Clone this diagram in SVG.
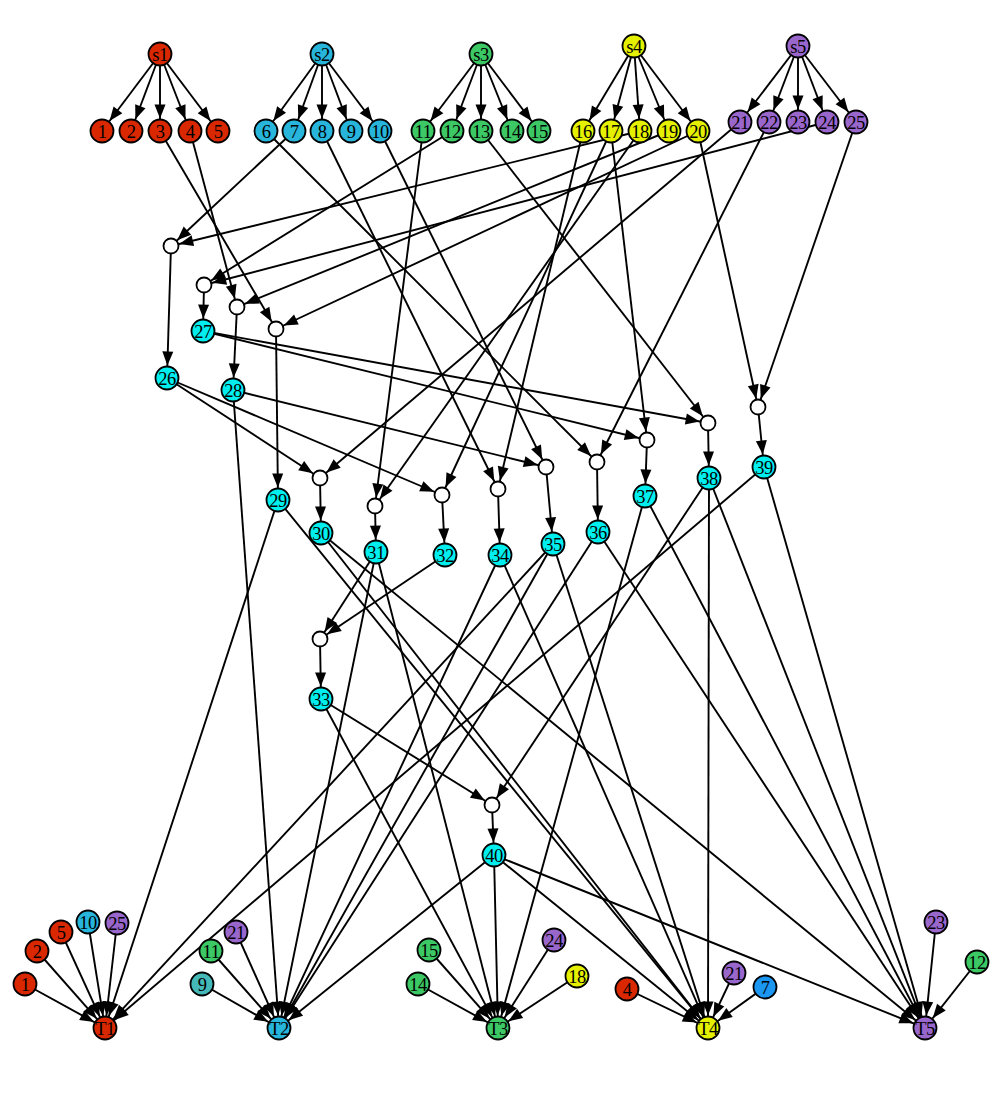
<svg xmlns="http://www.w3.org/2000/svg" width="997" height="1107" viewBox="0 0 997 1107">
<defs>
<marker id="mc" markerUnits="userSpaceOnUse" markerWidth="30" markerHeight="14" refX="26.5" refY="0" orient="auto" overflow="visible"><path d="M0,-5.5 L14,0 L0,5.5 z" fill="#000"/></marker>
<marker id="me" markerUnits="userSpaceOnUse" markerWidth="30" markerHeight="14" refX="22.5" refY="0" orient="auto" overflow="visible"><path d="M0,-5.5 L14,0 L0,5.5 z" fill="#000"/></marker>
</defs>
<style>
.n circle{stroke:#000;stroke-width:1.8}
.n text{font-family:"Liberation Serif",serif;font-size:18.5px;text-anchor:middle;fill:#000;letter-spacing:-0.5px}
.x circle{fill:#fff;stroke:#000;stroke-width:1.8}
#edges line{stroke:#000;stroke-width:1.9;fill:none}
#edges line.c{marker-end:url(#mc)}
#edges line.e{marker-end:url(#me)}
.R{fill:#d92800}.B{fill:#27b5dc}.G{fill:#3cc864}.Y{fill:#e4f000}.P{fill:#9966cc}.C{fill:#00eeee}.Tl{fill:#45b8b8}.Bl{fill:#1b97f2}
</style>
<rect width="997" height="1107" fill="#fff"/>
<g id="edges">
<line class="c" x1="160" y1="54" x2="102" y2="131"/>
<line class="c" x1="160" y1="54" x2="131" y2="131"/>
<line class="c" x1="160" y1="54" x2="160" y2="131"/>
<line class="c" x1="160" y1="54" x2="190" y2="131"/>
<line class="c" x1="160" y1="54" x2="218" y2="131"/>
<line class="c" x1="322" y1="54" x2="266" y2="131"/>
<line class="c" x1="322" y1="54" x2="294" y2="131"/>
<line class="c" x1="322" y1="54" x2="322" y2="131"/>
<line class="c" x1="322" y1="54" x2="351" y2="131"/>
<line class="c" x1="322" y1="54" x2="380" y2="131"/>
<line class="c" x1="481" y1="54" x2="423" y2="131"/>
<line class="c" x1="481" y1="54" x2="452" y2="131"/>
<line class="c" x1="481" y1="54" x2="481" y2="131"/>
<line class="c" x1="481" y1="54" x2="512" y2="131"/>
<line class="c" x1="481" y1="54" x2="539" y2="131"/>
<line class="c" x1="634" y1="46" x2="583" y2="131"/>
<line class="c" x1="634" y1="46" x2="611" y2="131"/>
<line class="c" x1="634" y1="46" x2="640" y2="131"/>
<line class="c" x1="634" y1="46" x2="669" y2="131"/>
<line class="c" x1="634" y1="46" x2="698" y2="131"/>
<line class="c" x1="798" y1="46" x2="740" y2="122"/>
<line class="c" x1="798" y1="46" x2="769" y2="122"/>
<line class="c" x1="798" y1="46" x2="798" y2="122"/>
<line class="c" x1="798" y1="46" x2="827" y2="122"/>
<line class="c" x1="798" y1="46" x2="856" y2="122"/>
<line class="e" x1="160" y1="131" x2="276" y2="329"/>
<line class="e" x1="190" y1="131" x2="237" y2="307"/>
<line class="e" x1="294" y1="131" x2="171" y2="246"/>
<line class="e" x1="266" y1="131" x2="597" y2="462"/>
<line class="e" x1="322" y1="131" x2="498" y2="489"/>
<line class="e" x1="380" y1="131" x2="546" y2="467"/>
<line class="e" x1="423" y1="131" x2="375" y2="506"/>
<line class="e" x1="452" y1="131" x2="204" y2="285"/>
<line class="e" x1="481" y1="131" x2="708" y2="423"/>
<line class="e" x1="583" y1="131" x2="498" y2="489"/>
<line class="e" x1="611" y1="131" x2="442" y2="495"/>
<line class="e" x1="611" y1="131" x2="647" y2="440"/>
<line class="e" x1="640" y1="131" x2="171" y2="246"/>
<line class="e" x1="640" y1="131" x2="375" y2="506"/>
<line class="e" x1="669" y1="131" x2="237" y2="307"/>
<line class="e" x1="698" y1="131" x2="276" y2="329"/>
<line class="e" x1="698" y1="131" x2="758" y2="407"/>
<line class="e" x1="740" y1="122" x2="320" y2="478"/>
<line class="e" x1="769" y1="122" x2="597" y2="462"/>
<line class="e" x1="827" y1="122" x2="204" y2="285"/>
<line class="e" x1="856" y1="122" x2="758" y2="407"/>
<line class="c" x1="171" y1="246" x2="167" y2="378"/>
<line class="c" x1="204" y1="285" x2="203" y2="331"/>
<line class="c" x1="237" y1="307" x2="233" y2="390"/>
<line class="c" x1="276" y1="329" x2="278" y2="500"/>
<line class="c" x1="320" y1="478" x2="321" y2="533"/>
<line class="c" x1="375" y1="506" x2="376" y2="552"/>
<line class="c" x1="442" y1="495" x2="445" y2="555"/>
<line class="c" x1="498" y1="489" x2="500" y2="555"/>
<line class="c" x1="546" y1="467" x2="553" y2="544"/>
<line class="c" x1="597" y1="462" x2="598" y2="532"/>
<line class="c" x1="647" y1="440" x2="645" y2="496"/>
<line class="c" x1="708" y1="423" x2="709" y2="478"/>
<line class="c" x1="758" y1="407" x2="764" y2="467"/>
<line class="c" x1="320" y1="639" x2="321" y2="699"/>
<line class="c" x1="492" y1="805" x2="494" y2="855"/>
<line class="e" x1="167" y1="378" x2="320" y2="478"/>
<line class="e" x1="167" y1="378" x2="442" y2="495"/>
<line class="e" x1="203" y1="331" x2="647" y2="440"/>
<line class="e" x1="203" y1="331" x2="708" y2="423"/>
<line class="e" x1="233" y1="390" x2="546" y2="467"/>
<line class="c" x1="233" y1="390" x2="279" y2="1028"/>
<line class="c" x1="278" y1="500" x2="105" y2="1028"/>
<line class="c" x1="278" y1="500" x2="708" y2="1028"/>
<line class="c" x1="321" y1="533" x2="708" y2="1028"/>
<line class="c" x1="321" y1="533" x2="925" y2="1028"/>
<line class="e" x1="376" y1="552" x2="320" y2="639"/>
<line class="c" x1="376" y1="552" x2="279" y2="1028"/>
<line class="c" x1="376" y1="552" x2="498" y2="1028"/>
<line class="e" x1="445" y1="555" x2="320" y2="639"/>
<line class="e" x1="321" y1="699" x2="492" y2="805"/>
<line class="c" x1="321" y1="699" x2="498" y2="1028"/>
<line class="c" x1="500" y1="555" x2="279" y2="1028"/>
<line class="c" x1="500" y1="555" x2="708" y2="1028"/>
<line class="c" x1="553" y1="544" x2="105" y2="1028"/>
<line class="c" x1="553" y1="544" x2="279" y2="1028"/>
<line class="c" x1="553" y1="544" x2="708" y2="1028"/>
<line class="c" x1="598" y1="532" x2="279" y2="1028"/>
<line class="c" x1="598" y1="532" x2="925" y2="1028"/>
<line class="c" x1="645" y1="496" x2="498" y2="1028"/>
<line class="c" x1="645" y1="496" x2="925" y2="1028"/>
<line class="e" x1="709" y1="478" x2="492" y2="805"/>
<line class="c" x1="709" y1="478" x2="708" y2="1028"/>
<line class="c" x1="709" y1="478" x2="925" y2="1028"/>
<line class="c" x1="764" y1="467" x2="105" y2="1028"/>
<line class="c" x1="764" y1="467" x2="925" y2="1028"/>
<line class="c" x1="494" y1="855" x2="279" y2="1028"/>
<line class="c" x1="494" y1="855" x2="498" y2="1028"/>
<line class="c" x1="494" y1="855" x2="708" y2="1028"/>
<line class="c" x1="494" y1="855" x2="925" y2="1028"/>
<line class="c" x1="25" y1="984" x2="105" y2="1028"/>
<line class="c" x1="37" y1="951" x2="105" y2="1028"/>
<line class="c" x1="61" y1="932" x2="105" y2="1028"/>
<line class="c" x1="88" y1="922" x2="105" y2="1028"/>
<line class="c" x1="117" y1="923" x2="105" y2="1028"/>
<line class="c" x1="202" y1="984" x2="279" y2="1028"/>
<line class="c" x1="211" y1="951" x2="279" y2="1028"/>
<line class="c" x1="236" y1="932" x2="279" y2="1028"/>
<line class="c" x1="418" y1="984" x2="498" y2="1028"/>
<line class="c" x1="429" y1="950" x2="498" y2="1028"/>
<line class="c" x1="554" y1="940" x2="498" y2="1028"/>
<line class="c" x1="577" y1="976" x2="498" y2="1028"/>
<line class="c" x1="627" y1="989" x2="708" y2="1028"/>
<line class="c" x1="734" y1="973" x2="708" y2="1028"/>
<line class="c" x1="765" y1="987" x2="708" y2="1028"/>
<line class="c" x1="936" y1="922" x2="925" y2="1028"/>
<line class="c" x1="977" y1="962" x2="925" y2="1028"/>
</g>
<g id="s1" class="n"><circle class="R" cx="160" cy="54" r="11.5"/><text x="160" y="60.5">s1</text></g>
<g id="s2" class="n"><circle class="B" cx="322" cy="54" r="11.5"/><text x="322" y="60.5">s2</text></g>
<g id="s3" class="n"><circle class="G" cx="481" cy="54" r="11.5"/><text x="481" y="60.5">s3</text></g>
<g id="s4" class="n"><circle class="Y" cx="634" cy="46" r="11.5"/><text x="634" y="52.5">s4</text></g>
<g id="s5" class="n"><circle class="P" cx="798" cy="46" r="11.5"/><text x="798" y="52.5">s5</text></g>
<g id="n1" class="n"><circle class="R" cx="102" cy="131" r="11.5"/><text x="102" y="137.5">1</text></g>
<g id="n2" class="n"><circle class="R" cx="131" cy="131" r="11.5"/><text x="131" y="137.5">2</text></g>
<g id="n3" class="n"><circle class="R" cx="160" cy="131" r="11.5"/><text x="160" y="137.5">3</text></g>
<g id="n4" class="n"><circle class="R" cx="190" cy="131" r="11.5"/><text x="190" y="137.5">4</text></g>
<g id="n5" class="n"><circle class="R" cx="218" cy="131" r="11.5"/><text x="218" y="137.5">5</text></g>
<g id="n6" class="n"><circle class="B" cx="266" cy="131" r="11.5"/><text x="266" y="137.5">6</text></g>
<g id="n7" class="n"><circle class="B" cx="294" cy="131" r="11.5"/><text x="294" y="137.5">7</text></g>
<g id="n8" class="n"><circle class="B" cx="322" cy="131" r="11.5"/><text x="322" y="137.5">8</text></g>
<g id="n9" class="n"><circle class="B" cx="351" cy="131" r="11.5"/><text x="351" y="137.5">9</text></g>
<g id="n10" class="n"><circle class="B" cx="380" cy="131" r="11.5"/><text x="380" y="137.5">10</text></g>
<g id="n11" class="n"><circle class="G" cx="423" cy="131" r="11.5"/><text x="423" y="137.5">11</text></g>
<g id="n12" class="n"><circle class="G" cx="452" cy="131" r="11.5"/><text x="452" y="137.5">12</text></g>
<g id="n13" class="n"><circle class="G" cx="481" cy="131" r="11.5"/><text x="481" y="137.5">13</text></g>
<g id="n14" class="n"><circle class="G" cx="512" cy="131" r="11.5"/><text x="512" y="137.5">14</text></g>
<g id="n15" class="n"><circle class="G" cx="539" cy="131" r="11.5"/><text x="539" y="137.5">15</text></g>
<g id="n16" class="n"><circle class="Y" cx="583" cy="131" r="11.5"/><text x="583" y="137.5">16</text></g>
<g id="n17" class="n"><circle class="Y" cx="611" cy="131" r="11.5"/><text x="611" y="137.5">17</text></g>
<g id="n18" class="n"><circle class="Y" cx="640" cy="131" r="11.5"/><text x="640" y="137.5">18</text></g>
<g id="n19" class="n"><circle class="Y" cx="669" cy="131" r="11.5"/><text x="669" y="137.5">19</text></g>
<g id="n20" class="n"><circle class="Y" cx="698" cy="131" r="11.5"/><text x="698" y="137.5">20</text></g>
<g id="n21" class="n"><circle class="P" cx="740" cy="122" r="11.5"/><text x="740" y="128.5">21</text></g>
<g id="n22" class="n"><circle class="P" cx="769" cy="122" r="11.5"/><text x="769" y="128.5">22</text></g>
<g id="n23" class="n"><circle class="P" cx="798" cy="122" r="11.5"/><text x="798" y="128.5">23</text></g>
<g id="n24" class="n"><circle class="P" cx="827" cy="122" r="11.5"/><text x="827" y="128.5">24</text></g>
<g id="n25" class="n"><circle class="P" cx="856" cy="122" r="11.5"/><text x="856" y="128.5">25</text></g>
<g id="j26" class="x"><circle cx="171" cy="246" r="7.5"/></g>
<g id="j27" class="x"><circle cx="204" cy="285" r="7.5"/></g>
<g id="j28" class="x"><circle cx="237" cy="307" r="7.5"/></g>
<g id="j29" class="x"><circle cx="276" cy="329" r="7.5"/></g>
<g id="j30" class="x"><circle cx="320" cy="478" r="7.5"/></g>
<g id="j31" class="x"><circle cx="375" cy="506" r="7.5"/></g>
<g id="j32" class="x"><circle cx="442" cy="495" r="7.5"/></g>
<g id="j33" class="x"><circle cx="320" cy="639" r="7.5"/></g>
<g id="j34" class="x"><circle cx="498" cy="489" r="7.5"/></g>
<g id="j35" class="x"><circle cx="546" cy="467" r="7.5"/></g>
<g id="j36" class="x"><circle cx="597" cy="462" r="7.5"/></g>
<g id="j37" class="x"><circle cx="647" cy="440" r="7.5"/></g>
<g id="j38" class="x"><circle cx="708" cy="423" r="7.5"/></g>
<g id="j39" class="x"><circle cx="758" cy="407" r="7.5"/></g>
<g id="j40" class="x"><circle cx="492" cy="805" r="7.5"/></g>
<g id="n26" class="n"><circle class="C" cx="167" cy="378" r="11.5"/><text x="167" y="384.5">26</text></g>
<g id="n27" class="n"><circle class="C" cx="203" cy="331" r="11.5"/><text x="203" y="337.5">27</text></g>
<g id="n28" class="n"><circle class="C" cx="233" cy="390" r="11.5"/><text x="233" y="396.5">28</text></g>
<g id="n29" class="n"><circle class="C" cx="278" cy="500" r="11.5"/><text x="278" y="506.5">29</text></g>
<g id="n30" class="n"><circle class="C" cx="321" cy="533" r="11.5"/><text x="321" y="539.5">30</text></g>
<g id="n31" class="n"><circle class="C" cx="376" cy="552" r="11.5"/><text x="376" y="558.5">31</text></g>
<g id="n32" class="n"><circle class="C" cx="445" cy="555" r="11.5"/><text x="445" y="561.5">32</text></g>
<g id="n33" class="n"><circle class="C" cx="321" cy="699" r="11.5"/><text x="321" y="705.5">33</text></g>
<g id="n34" class="n"><circle class="C" cx="500" cy="555" r="11.5"/><text x="500" y="561.5">34</text></g>
<g id="n35" class="n"><circle class="C" cx="553" cy="544" r="11.5"/><text x="553" y="550.5">35</text></g>
<g id="n36" class="n"><circle class="C" cx="598" cy="532" r="11.5"/><text x="598" y="538.5">36</text></g>
<g id="n37" class="n"><circle class="C" cx="645" cy="496" r="11.5"/><text x="645" y="502.5">37</text></g>
<g id="n38" class="n"><circle class="C" cx="709" cy="478" r="11.5"/><text x="709" y="484.5">38</text></g>
<g id="n39" class="n"><circle class="C" cx="764" cy="467" r="11.5"/><text x="764" y="473.5">39</text></g>
<g id="n40" class="n"><circle class="C" cx="494" cy="855" r="11.5"/><text x="494" y="861.5">40</text></g>
<g id="T1" class="n"><circle class="R" cx="105" cy="1028" r="11.5"/><text x="105" y="1034.5">T1</text></g>
<g id="T2" class="n"><circle class="B" cx="279" cy="1028" r="11.5"/><text x="279" y="1034.5">T2</text></g>
<g id="T3" class="n"><circle class="G" cx="498" cy="1028" r="11.5"/><text x="498" y="1034.5">T3</text></g>
<g id="T4" class="n"><circle class="Y" cx="708" cy="1028" r="11.5"/><text x="708" y="1034.5">T4</text></g>
<g id="T5" class="n"><circle class="P" cx="925" cy="1028" r="11.5"/><text x="925" y="1034.5">T5</text></g>
<g id="t1_1" class="n"><circle class="R" cx="25" cy="984" r="11.5"/><text x="25" y="990.5">1</text></g>
<g id="t1_2" class="n"><circle class="R" cx="37" cy="951" r="11.5"/><text x="37" y="957.5">2</text></g>
<g id="t1_5" class="n"><circle class="R" cx="61" cy="932" r="11.5"/><text x="61" y="938.5">5</text></g>
<g id="t1_10" class="n"><circle class="B" cx="88" cy="922" r="11.5"/><text x="88" y="928.5">10</text></g>
<g id="t1_25" class="n"><circle class="P" cx="117" cy="923" r="11.5"/><text x="117" y="929.5">25</text></g>
<g id="t2_9" class="n"><circle class="Tl" cx="202" cy="984" r="11.5"/><text x="202" y="990.5">9</text></g>
<g id="t2_11" class="n"><circle class="G" cx="211" cy="951" r="11.5"/><text x="211" y="957.5">11</text></g>
<g id="t2_21" class="n"><circle class="P" cx="236" cy="932" r="11.5"/><text x="236" y="938.5">21</text></g>
<g id="t3_14" class="n"><circle class="G" cx="418" cy="984" r="11.5"/><text x="418" y="990.5">14</text></g>
<g id="t3_15" class="n"><circle class="G" cx="429" cy="950" r="11.5"/><text x="429" y="956.5">15</text></g>
<g id="t3_24" class="n"><circle class="P" cx="554" cy="940" r="11.5"/><text x="554" y="946.5">24</text></g>
<g id="t3_18" class="n"><circle class="Y" cx="577" cy="976" r="11.5"/><text x="577" y="982.5">18</text></g>
<g id="t4_4" class="n"><circle class="R" cx="627" cy="989" r="11.5"/><text x="627" y="995.5">4</text></g>
<g id="t4_21" class="n"><circle class="P" cx="734" cy="973" r="11.5"/><text x="734" y="979.5">21</text></g>
<g id="t4_7" class="n"><circle class="Bl" cx="765" cy="987" r="11.5"/><text x="765" y="993.5">7</text></g>
<g id="t5_23" class="n"><circle class="P" cx="936" cy="922" r="11.5"/><text x="936" y="928.5">23</text></g>
<g id="t5_12" class="n"><circle class="G" cx="977" cy="962" r="11.5"/><text x="977" y="968.5">12</text></g>
</svg>
